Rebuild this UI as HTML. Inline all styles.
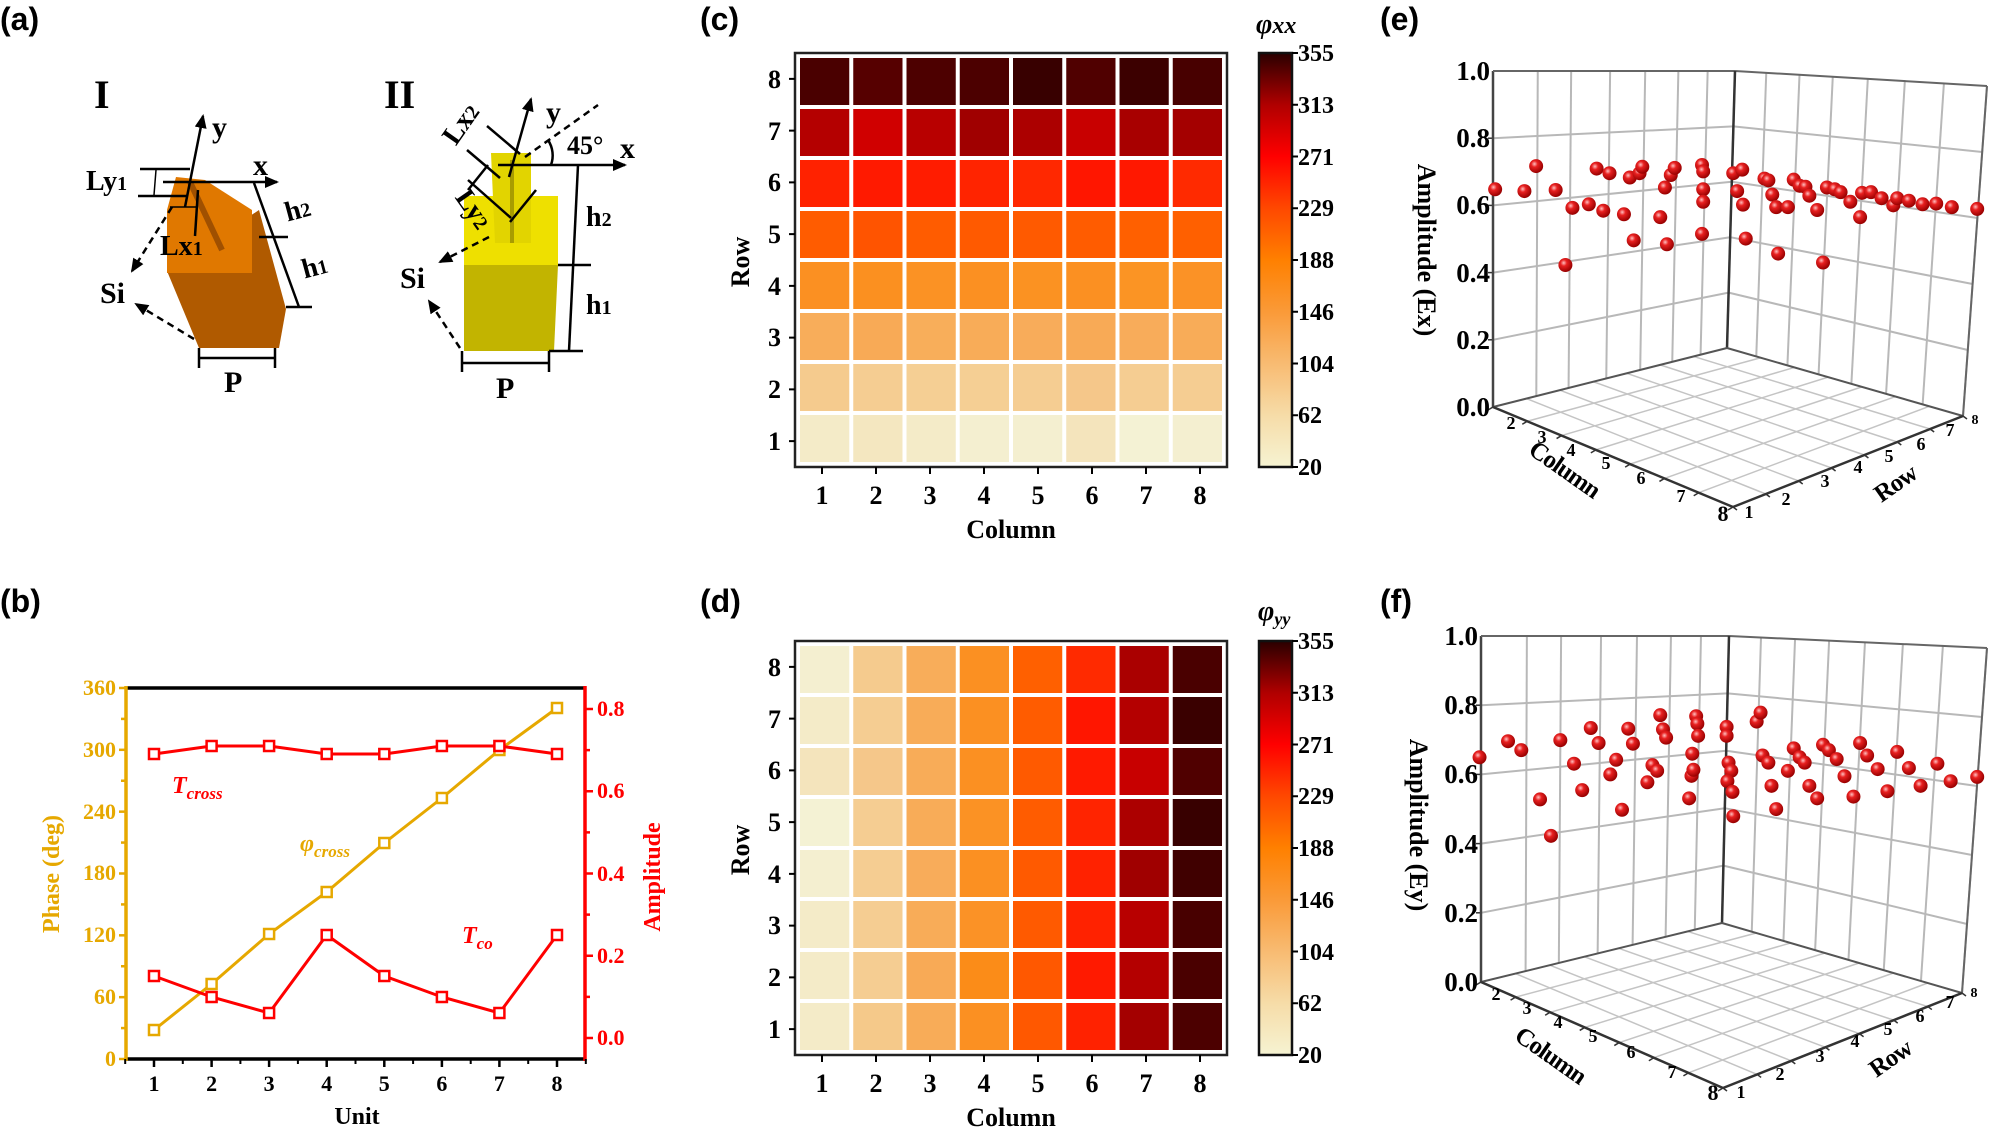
<!DOCTYPE html>
<html><head><meta charset="utf-8">
<style>
html,body{margin:0;padding:0;background:#fff;}
svg{display:block;}
.s{font-family:"Liberation Serif",serif;font-weight:bold;}
.a{font-family:"Liberation Sans",sans-serif;font-weight:bold;font-size:32px;}
</style></head>
<body>
<svg id="sv" width="1992" height="1128" viewBox="0 0 1992 1128" xmlns="http://www.w3.org/2000/svg">
<defs>
<linearGradient id="cb" x1="0" y1="1" x2="0" y2="0">
<stop offset="0" stop-color="#f6f3d2"/>
<stop offset="0.125" stop-color="#f6dca8"/>
<stop offset="0.25" stop-color="#f8bb72"/>
<stop offset="0.375" stop-color="#fa9a38"/>
<stop offset="0.5" stop-color="#ff8000"/>
<stop offset="0.625" stop-color="#ff4800"/>
<stop offset="0.75" stop-color="#ff0000"/>
<stop offset="0.875" stop-color="#b00000"/>
<stop offset="1" stop-color="#2a0000"/>
</linearGradient>
<radialGradient id="sp" cx="0.38" cy="0.35" r="0.65">
<stop offset="0" stop-color="#ffc0c0"/>
<stop offset="0.35" stop-color="#e82020"/>
<stop offset="1" stop-color="#980000"/>
</radialGradient>
<marker id="ar" markerWidth="8" markerHeight="8" refX="6" refY="4" orient="auto" markerUnits="userSpaceOnUse"><path d="M0,0 L8,4 L0,8 z" fill="#000"/></marker>
<marker id="ar2" markerWidth="14" markerHeight="12" refX="12" refY="6" orient="auto" markerUnits="userSpaceOnUse"><path d="M0,0 L14,6 L0,12 z" fill="#000"/></marker>
</defs>
<g id="gen"></g>

<!-- Panel labels -->
<text class="a" x="0" y="30">(a)</text>
<text class="a" x="0" y="612">(b)</text>
<text class="a" x="700" y="30">(c)</text>
<text class="a" x="700" y="612">(d)</text>
<text class="a" x="1380" y="30">(e)</text>
<text class="a" x="1380" y="612">(f)</text>

<!-- Panel a -->
<g id="pa">
<polygon points="167,271 259,210 286,309 279,348 199,348" fill="#b05a00"/>
<polygon points="176,177 205,180 252,210 252,273 167,273 167,210" fill="#e07800"/>
<line x1="190" y1="182" x2="222" y2="250" stroke="#a05000" stroke-width="6"/>
<polygon points="464,265 558,265 554,351 464,351" fill="#c2b400"/>
<polygon points="464,196 558,196 558,265 464,265" fill="#eee000"/>
<polygon points="491,153 531,153 531,243 495,243" fill="#e2d400"/>
<line x1="512" y1="160" x2="512" y2="243" stroke="#a89c00" stroke-width="4"/>
<g stroke="#000" stroke-width="2.5" fill="none">
<line x1="185" y1="207" x2="203" y2="116" marker-end="url(#ar2)"/>
<line x1="163" y1="182" x2="277" y2="182" marker-end="url(#ar2)"/>
<line x1="254" y1="183" x2="299" y2="307"/>
<line x1="259" y1="237" x2="288" y2="237"/>
<line x1="286" y1="307" x2="312" y2="307"/>
<line x1="199" y1="358" x2="275" y2="358"/>
<line x1="199" y1="348" x2="199" y2="368"/>
<line x1="275" y1="348" x2="275" y2="368"/>
<line x1="140" y1="169" x2="190" y2="169"/>
<line x1="138" y1="196" x2="188" y2="196"/>
<line x1="156" y1="170" x2="154" y2="195" stroke-width="1.5"/>
<line x1="170" y1="207" x2="198" y2="207" stroke-width="1.5"/>
<line x1="198" y1="190" x2="195" y2="236"/>
<line x1="172" y1="207" x2="132" y2="271" stroke-dasharray="7,5" marker-end="url(#ar2)"/>
<line x1="194" y1="339" x2="136" y2="304" stroke-dasharray="7,5" marker-end="url(#ar2)"/>
<line x1="509" y1="177" x2="531" y2="99" marker-end="url(#ar2)"/>
<line x1="498" y1="165" x2="625" y2="165" marker-end="url(#ar2)"/>
<line x1="525" y1="157" x2="598" y2="105" stroke-dasharray="7,5"/>
<path d="M548,140 A28,28 0 0 1 551,165"/>
<line x1="487" y1="126" x2="520" y2="154"/>
<line x1="467" y1="150" x2="500" y2="178"/>
<line x1="488" y1="165" x2="468" y2="190"/>
<line x1="468" y1="180" x2="511" y2="218"/>
<line x1="536" y1="190" x2="510" y2="222"/>
<line x1="578" y1="165" x2="569" y2="351"/>
<line x1="558" y1="265" x2="591" y2="265"/>
<line x1="549" y1="351" x2="583" y2="351"/>
<line x1="462" y1="363" x2="549" y2="363"/>
<line x1="462" y1="351" x2="462" y2="372"/>
<line x1="549" y1="351" x2="549" y2="372"/>
<line x1="489" y1="237" x2="440" y2="262" stroke-dasharray="7,5" marker-end="url(#ar2)"/>
<line x1="460" y1="348" x2="429" y2="301" stroke-dasharray="7,5" marker-end="url(#ar2)"/>
</g>
<g class="s" fill="#000">
<text x="94" y="108" font-size="40">I</text>
<text x="384" y="108" font-size="40">II</text>
<text x="212" y="137" font-size="30">y</text>
<text x="253" y="175" font-size="30">x</text>
<text x="86" y="190" font-size="28">Ly<tspan font-size="20">1</tspan></text>
<text x="160" y="255" font-size="28">Lx<tspan font-size="20">1</tspan></text>
<text x="285" y="218" font-size="28" transform="rotate(-15 300 210)">h<tspan font-size="20">2</tspan></text>
<text x="302" y="275" font-size="28" transform="rotate(-15 317 267)">h<tspan font-size="20">1</tspan></text>
<text x="100" y="303" font-size="30">Si</text>
<text x="224" y="392" font-size="30">P</text>
<text x="546" y="122" font-size="30">y</text>
<text x="620" y="158" font-size="30">x</text>
<text x="567" y="154" font-size="26">45°</text>
<text x="440" y="136" font-size="28" transform="rotate(-55 458 126)">Lx<tspan font-size="20">2</tspan></text>
<text x="452" y="218" font-size="28" transform="rotate(55 473 210)">Ly<tspan font-size="20">2</tspan></text>
<text x="400" y="288" font-size="30">Si</text>
<text x="496" y="398" font-size="30">P</text>
<text x="586" y="226" font-size="28">h<tspan font-size="20">2</tspan></text>
<text x="586" y="314" font-size="28">h<tspan font-size="20">1</tspan></text>
</g>
</g>

<!-- Panel b -->
<g id="pb" class="s">
<g font-size="22" fill="#e6a800" text-anchor="end">
<text x="116" y="1066">0</text><text x="116" y="1004">60</text><text x="116" y="942">120</text><text x="116" y="880">180</text><text x="116" y="819">240</text><text x="116" y="757">300</text><text x="116" y="695">360</text>
</g>
<g font-size="22" fill="#ff0000">
<text x="597" y="1045">0.0</text><text x="597" y="963">0.2</text><text x="597" y="881">0.4</text><text x="597" y="798">0.6</text><text x="597" y="716">0.8</text>
</g>
<g font-size="22" fill="#000" text-anchor="middle">
<text x="154" y="1091">1</text><text x="211.6" y="1091">2</text><text x="269.1" y="1091">3</text><text x="326.7" y="1091">4</text><text x="384.3" y="1091">5</text><text x="441.9" y="1091">6</text><text x="499.4" y="1091">7</text><text x="557" y="1091">8</text>
<text x="357" y="1124" font-size="24">Unit</text>
</g>
<text transform="translate(59 874) rotate(-90)" text-anchor="middle" font-size="24" fill="#e6a800">Phase (deg)</text>
<text transform="translate(660 877) rotate(-90)" text-anchor="middle" font-size="24" fill="#ff0000">Amplitude</text>
<text x="172" y="793" font-size="24" font-style="italic" fill="#ff0000">T<tspan font-size="17" dy="6">cross</tspan></text>
<text x="300" y="851" font-size="24" font-style="italic" fill="#e6a800">φ<tspan font-size="17" dy="6">cross</tspan></text>
<text x="462" y="943" font-size="24" font-style="italic" fill="#ff0000">T<tspan font-size="17" dy="6">co</tspan></text>
</g>

<!-- Panel c / d text -->
<g class="s" font-size="26" fill="#000">
<g text-anchor="end">
<text x="781" y="88">8</text><text x="781" y="140">7</text><text x="781" y="191">6</text><text x="781" y="243">5</text><text x="781" y="295">4</text><text x="781" y="346">3</text><text x="781" y="398">2</text><text x="781" y="450">1</text>
<text x="781" y="676">8</text><text x="781" y="728">7</text><text x="781" y="779">6</text><text x="781" y="831">5</text><text x="781" y="883">4</text><text x="781" y="934">3</text><text x="781" y="986">2</text><text x="781" y="1038">1</text>
</g>
<g text-anchor="middle">
<text x="822" y="504">1</text><text x="876" y="504">2</text><text x="930" y="504">3</text><text x="984" y="504">4</text><text x="1038" y="504">5</text><text x="1092" y="504">6</text><text x="1146" y="504">7</text><text x="1200" y="504">8</text>
<text x="1011" y="538">Column</text>
<text x="822" y="1092">1</text><text x="876" y="1092">2</text><text x="930" y="1092">3</text><text x="984" y="1092">4</text><text x="1038" y="1092">5</text><text x="1092" y="1092">6</text><text x="1146" y="1092">7</text><text x="1200" y="1092">8</text>
<text x="1011" y="1126">Column</text>
</g>
<text transform="translate(749 262) rotate(-90)" text-anchor="middle">Row</text>
<text transform="translate(749 850) rotate(-90)" text-anchor="middle">Row</text>
<g font-size="24">
<text x="1298" y="61">355</text><text x="1298" y="113">313</text><text x="1298" y="165">271</text><text x="1298" y="216">229</text><text x="1298" y="268">188</text><text x="1298" y="320">146</text><text x="1298" y="372">104</text><text x="1298" y="423">62</text><text x="1298" y="475">20</text>
<text x="1298" y="649">355</text><text x="1298" y="701">313</text><text x="1298" y="753">271</text><text x="1298" y="804">229</text><text x="1298" y="856">188</text><text x="1298" y="908">146</text><text x="1298" y="960">104</text><text x="1298" y="1011">62</text><text x="1298" y="1063">20</text>
</g>
<text x="1256" y="33" font-size="28" font-style="italic">φ<tspan font-size="24">xx</tspan></text>
<text x="1258" y="620" font-size="28" font-style="italic">φ<tspan font-size="18" dy="5">yy</tspan></text>
</g>

<!-- Panel e/f text -->
<g class="s" fill="#000">
<g font-size="27" text-anchor="end">
<text x="1490" y="80">1.0</text><text x="1490" y="147">0.8</text><text x="1490" y="214">0.6</text><text x="1490" y="282">0.4</text><text x="1490" y="349">0.2</text><text x="1490" y="416">0.0</text>
<text x="1478" y="645">1.0</text><text x="1478" y="714">0.8</text><text x="1478" y="783">0.6</text><text x="1478" y="853">0.4</text><text x="1478" y="922">0.2</text><text x="1478" y="991">0.0</text>
</g>
<text transform="translate(1418 250) rotate(90)" text-anchor="middle" font-size="26">Amplitude (Ex)</text>
<text transform="translate(1410 825) rotate(90)" text-anchor="middle" font-size="26">Amplitude (Ey)</text>
<text transform="translate(1560 476) rotate(35)" text-anchor="middle" font-size="25" letter-spacing="-1">Column</text>
<text transform="translate(1900 490) rotate(-35)" text-anchor="middle" font-size="25" letter-spacing="-1">Row</text>
<text transform="translate(1546 1062) rotate(35)" text-anchor="middle" font-size="25" letter-spacing="-1">Column</text>
<text transform="translate(1895 1065) rotate(-35)" text-anchor="middle" font-size="25" letter-spacing="-1">Row</text>
<g font-size="18" text-anchor="middle">
<text x="1511" y="429">2</text><text x="1542" y="443">3</text><text x="1571" y="456">4</text><text x="1606" y="469">5</text><text x="1641" y="484">6</text><text x="1681" y="502">7</text><text x="1723" y="521" font-size="22">8</text>
<text x="1749" y="518">1</text><text x="1786" y="505">2</text><text x="1825" y="487">3</text><text x="1858" y="473">4</text><text x="1889" y="462">5</text><text x="1921" y="450">6</text><text x="1950" y="436">7</text><text x="1975" y="424" font-size="14">8</text>
<text x="1496" y="1000">2</text><text x="1527" y="1014">3</text><text x="1558" y="1028">4</text><text x="1593" y="1042">5</text><text x="1631" y="1058">6</text><text x="1672" y="1078">7</text><text x="1713" y="1100" font-size="22">8</text>
<text x="1741" y="1098">1</text><text x="1780" y="1080">2</text><text x="1820" y="1062">3</text><text x="1855" y="1047">4</text><text x="1888" y="1035">5</text><text x="1920" y="1022">6</text><text x="1950" y="1008">7</text><text x="1974" y="997" font-size="14">8</text>
</g>
</g>
</svg>
<script>
(function(){
var NS="http://www.w3.org/2000/svg",g=document.getElementById("gen");
function el(t,a){var e=document.createElementNS(NS,t);for(var k in a)e.setAttribute(k,a[k]);g.appendChild(e);return e;}
function ln(x1,y1,x2,y2,c,w,ex){var a={x1:x1,y1:y1,x2:x2,y2:y2,stroke:c,"stroke-width":w};for(var k in ex)a[k]=ex[k];return el("line",a);}
// heatmaps
var C=[["#4a0000","#560000","#4d0000","#4c0000","#380000","#500000","#3c0000","#480000"],
["#b40000","#d00000","#b80000","#a00000","#ac0000","#c80000","#a80000","#a40000"],
["#ff2200","#ff1a00","#ff1c00","#ff2400","#ff2800","#ff1600","#ff1800","#ff2a00"],
["#ff5c00","#ff5400","#ff5c00","#ff5a00","#ff5a00","#ff5c00","#ff6000","#ff6000"],
["#fb9022","#fb9020","#fb9224","#fb9022","#fb9222","#fb9022","#fb9424","#fb9226"],
["#f8ad5a","#f8aa56","#f8ae5a","#f8ac58","#f8ac5a","#f8aa56","#f8ac5a","#f8ac58"],
["#f5cb8e","#f5cd92","#f5cf94","#f5cf94","#f5cd92","#f5c78a","#f5cd92","#f5cd92"],
["#f4ebc8","#f4e7c0","#f4ebc8","#f4efd0","#f4efd0","#f4e4bc","#f4f2d4","#f4efd0"]];
var D=[["#f4efd0","#f5cb8e","#f8ad5a","#fb9022","#ff6000","#ff2a00","#aa0000","#4a0000"],
["#f4ebc8","#f5cd92","#f8ac58","#fb9022","#ff5c00","#ff1600","#b40000","#3a0000"],
["#f4e4bc","#f5c78a","#f8ac58","#fb9022","#ff5a00","#ff1a00","#c80000","#500000"],
["#f4f2d4","#f5cd92","#f8ac58","#fb9224","#ff5c00","#ff2400","#ac0000","#380000"],
["#f4efd0","#f5cd92","#f8ac5a","#fb9022","#ff5a00","#ff2200","#a00000","#400000"],
["#f4ebc8","#f5cd92","#f8ac58","#fb9226","#ff5a00","#ff2200","#b80000","#480000"],
["#f4ebc8","#f5cd92","#f8aa56","#fb8c18","#ff5800","#ff1a00","#b40000","#4a0000"],
["#f4ebc8","#f5c98a","#f8ac58","#fb9022","#ff5800","#ff2200","#a40000","#4c0000"]];
function heat(M,dy){
 el("rect",{x:795,y:53+dy,width:432,height:414,fill:"#fff",stroke:"#222","stroke-width":2.5});
 var x0=798,y0=56,cw=426/8,ch=408/8;
 for(var r=0;r<8;r++)for(var c=0;c<8;c++)
  el("rect",{x:x0+c*cw+2,y:y0+dy+r*ch+2,width:cw-4,height:ch-4,fill:M[r][c]});
 for(var i=0;i<8;i++){ln(789,53+dy+(i+0.5)*51.75,795,53+dy+(i+0.5)*51.75,"#000",2);
  ln(822+i*54,467+dy,822+i*54,474+dy,"#000",2);}
 el("rect",{x:1259,y:53+dy,width:33,height:414,fill:"url(#cb)",stroke:"#111","stroke-width":2.5});
 for(var i=0;i<9;i++)ln(1292,53+dy+i*51.75,1298,53+dy+i*51.75,"#000",2);
}
heat(C,0);heat(D,588);
// panel b
var OR="#e6a800",RD="#ff0000";
ln(126,688,585,688,"#000",3.5);ln(126,1059,585,1059,"#000",3.5);
ln(126,686,126,1061,OR,3.5);ln(585,686,585,1061,RD,3.5);
for(var v=0;v<=360;v+=30){var y=1059-v*1.0306;ln(v%60?121:119,y,126,y,OR,2.5);}
for(var a=0;a<=0.8001;a+=0.1){var y=1038-a*411.25;ln(585,y,a*10%2<0.5||a*10%2>1.5?593:590,y,RD,2.5);}
var X=[154,211.6,269.1,326.7,384.3,441.9,499.4,557];
for(var i=0;i<8;i++){ln(X[i],1059,X[i],1067,"#000",2.5);ln(X[i]+28.8,1059,X[i]+28.8,1064,"#000",2);}
ln(125.2,1059,125.2,1064,"#000",2);
function series(ys,c){var p=X.map(function(x,i){return x+","+ys[i]}).join(" ");
 el("polyline",{points:p,fill:"none",stroke:c,"stroke-width":3});
 X.forEach(function(x,i){el("rect",{x:x-5,y:ys[i]-5,width:10,height:10,fill:"#fff",stroke:c,"stroke-width":2.5});});}
series([1030,984,934,892,843,798,750,708],OR);
series([754,746,746,754,754,746,746,754],RD);
series([976,997,1013,935,976,997,1013,935],RD);
// 3D panels
function lp(A,B,t){return [A[0]+(B[0]-A[0])*t,A[1]+(B[1]-A[1])*t];}
function box3(G,pts,yoff){
 var LT=G.LT,LB=G.LB,CT=G.CT,CB=G.CB,RT=G.RT,RB=G.RB,F=G.F;
 var RTc=[RB[0]+(RT[0]-RB[0]),RT[1]];
 var gl="#b8b8b8";
 var lt=[0,0.185,0.323,0.484,0.629,0.766,0.887,1],rt=[0,0.124,0.256,0.388,0.527,0.674,0.829,1];
 lt.forEach(function(t){var b=lp(LB,CB,t),tp=lp(LT,CT,t);ln(b[0],b[1],tp[0],tp[1],gl,2);});
 rt.forEach(function(t){var b=lp(CB,RB,t),tp=lp(CT,RT,t);ln(b[0],b[1],tp[0],tp[1],gl,2);});
 [0.2,0.4,0.6,0.8].forEach(function(a){var l=lp(LB,LT,a),c=lp(CB,CT,a),r=lp(RB,RT,a);
  ln(l[0],l[1],c[0],c[1],gl,2);ln(c[0],c[1],r[0],r[1],gl,2);
  ln(l[0]-5,l[1],l[0],l[1],"#333",1.5);});
 for(var i=1;i<7;i++){var t=i/7,a=lp(LB,F,t),b=lp(CB,RB,t);ln(a[0],a[1],b[0],b[1],"#c4c4c4",1.5);
  var c=lp(LB,CB,t),d=lp(F,RB,t);ln(c[0],c[1],d[0],d[1],"#c4c4c4",1.5);}
 var E="#444";
 ln(LB[0],LB[1],LT[0],LT[1],E,2.5);ln(LT[0],LT[1],CT[0],CT[1],"#666",2);ln(CT[0],CT[1],RT[0],RT[1],"#666",2);
 ln(CB[0],CB[1],CT[0],CT[1],"#333",2.5);ln(RB[0],RB[1],RT[0],RT[1],"#666",2);
 ln(LB[0],LB[1],CB[0],CB[1],"#555",2);ln(CB[0],CB[1],RB[0],RB[1],"#555",2);
 ln(LB[0],LB[1],F[0],F[1],"#333",2.5);ln(F[0],F[1],RB[0],RB[1],"#333",2.5);
 for(var i=0;i<=7;i++){var a=lp(LB,F,i/7),b=lp(F,RB,i/7);ln(a[0],a[1],a[0]-5,a[1]+3,"#333",1.5);ln(b[0],b[1],b[0]+4,b[1]+3,"#333",1.5);}
 for(var i=0;i<pts.length;i+=2){var x=pts[i]/2.562+1380,y=pts[i+1]/2.8+yoff;
  el("circle",{cx:x,cy:y,r:7,fill:"url(#sp)"});}
}
var PE=[295,530,370,535,400,465,450,532,475,742,493,582,535,572,555,472,572,590,588,485,625,600,640,497,650,673,665,485,672,467,718,608,730,525,735,684,745,490,755,470,825,462,828,480,828,530,828,565,825,655,905,485,915,535,928,475,930,573,937,668,985,500,995,505,1005,545,1015,580,1020,710,1045,580,1060,503,1075,520,1090,523,1100,548,1120,588,1135,735,1145,525,1165,530,1180,538,1205,565,1230,608,1235,540,1258,538,1285,555,1315,575,1325,555,1355,562,1390,572,1425,570,1465,580,1530,585];
var PF=[255,530,328,485,362,510,410,648,438,750,462,482,497,548,518,622,540,448,560,490,590,578,605,537,620,677,636,450,648,492,685,600,698,552,710,568,718,412,725,452,733,475,792,645,798,582,800,520,803,565,810,415,813,436,815,470,888,445,888,470,893,545,900,568,890,597,903,627,905,695,965,430,975,405,980,525,995,545,1003,610,1015,675,1045,568,1060,505,1075,530,1088,545,1100,610,1120,645,1135,495,1150,510,1170,535,1190,583,1213,640,1230,490,1248,525,1275,563,1300,625,1325,515,1355,560,1385,610,1428,548,1462,597,1530,585];
box3({LT:[1493,71],LB:[1493,407],CT:[1735,71],CB:[1727,348],RT:[1987,86],RB:[1963,416],F:[1733,507]},PE,0);
box3({LT:[1481,636],LB:[1481,982],CT:[1729,636],CB:[1722,923],RT:[1987,648],RB:[1962,993],F:[1723,1088]},PF,568);
})();
</script>
</body></html>
